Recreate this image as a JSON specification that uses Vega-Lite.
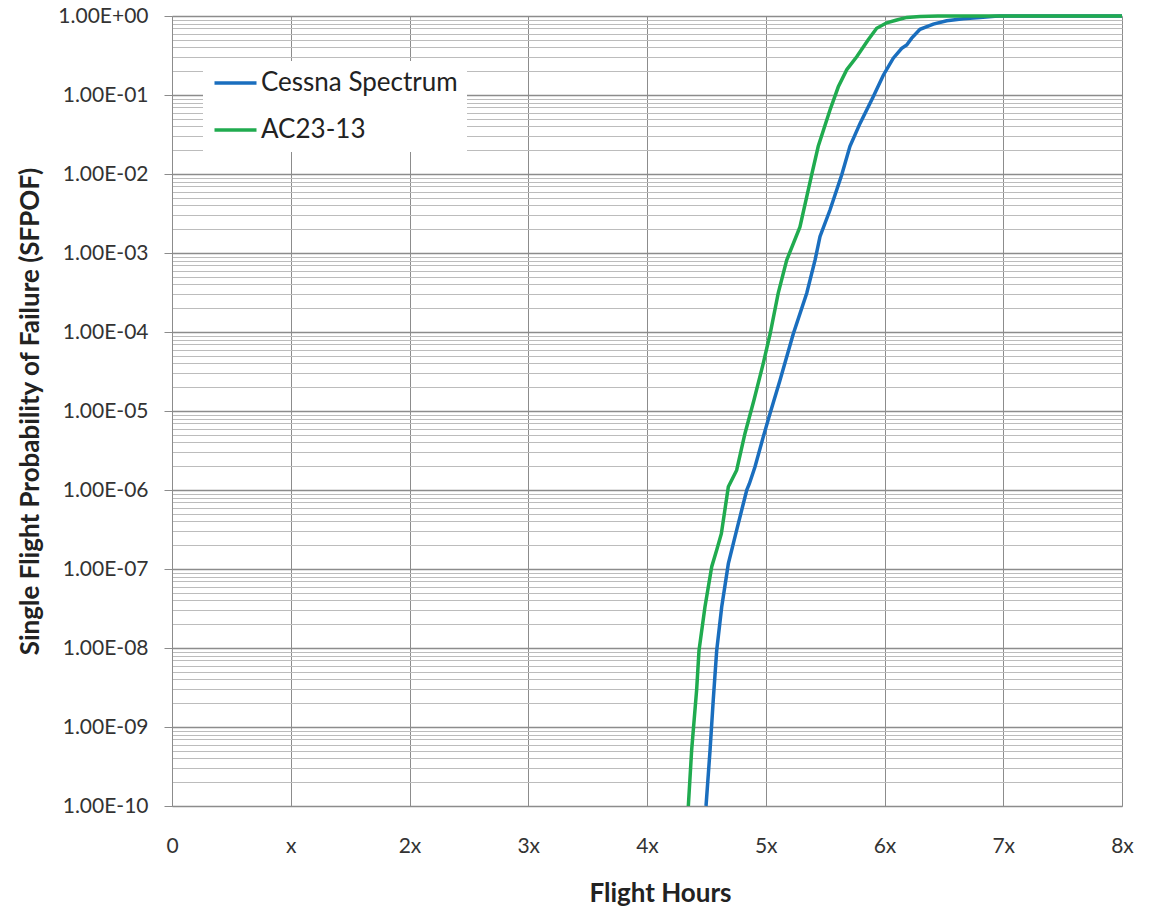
{
  "$schema": "https://vega.github.io/schema/vega-lite/v6.json",
  "width": 950,
  "height": 790,
  "autosize": {"type": "none"},
  "padding": {"left": 172, "top": 16, "right": 27, "bottom": 100},
  "background": "white",
  "config": {
    "view": {"stroke": null},
    "font": "Lato"
  },
  "data": {
    "values": [
      {"series": "Cessna Spectrum", "hours": 4.497, "p": 1e-10},
      {"series": "Cessna Spectrum", "hours": 4.531, "p": 5.1e-10},
      {"series": "Cessna Spectrum", "hours": 4.558, "p": 2.2e-9},
      {"series": "Cessna Spectrum", "hours": 4.587, "p": 9.3e-9},
      {"series": "Cessna Spectrum", "hours": 4.629, "p": 3.3e-8},
      {"series": "Cessna Spectrum", "hours": 4.685, "p": 1.17e-7},
      {"series": "Cessna Spectrum", "hours": 4.755, "p": 3.1e-7},
      {"series": "Cessna Spectrum", "hours": 4.840, "p": 1.0e-6},
      {"series": "Cessna Spectrum", "hours": 4.862, "p": 1.2e-6},
      {"series": "Cessna Spectrum", "hours": 4.909, "p": 1.95e-6},
      {"series": "Cessna Spectrum", "hours": 4.979, "p": 4.7e-6},
      {"series": "Cessna Spectrum", "hours": 5.036, "p": 9.3e-6},
      {"series": "Cessna Spectrum", "hours": 5.120, "p": 2.45e-5},
      {"series": "Cessna Spectrum", "hours": 5.232, "p": 9.5e-5},
      {"series": "Cessna Spectrum", "hours": 5.345, "p": 3.1e-4},
      {"series": "Cessna Spectrum", "hours": 5.415, "p": 8.1e-4},
      {"series": "Cessna Spectrum", "hours": 5.457, "p": 1.62e-3},
      {"series": "Cessna Spectrum", "hours": 5.541, "p": 3.5e-3},
      {"series": "Cessna Spectrum", "hours": 5.640, "p": 9.8e-3},
      {"series": "Cessna Spectrum", "hours": 5.709, "p": 0.0224},
      {"series": "Cessna Spectrum", "hours": 5.794, "p": 0.0437},
      {"series": "Cessna Spectrum", "hours": 5.906, "p": 0.0955},
      {"series": "Cessna Spectrum", "hours": 5.990, "p": 0.178},
      {"series": "Cessna Spectrum", "hours": 6.074, "p": 0.292},
      {"series": "Cessna Spectrum", "hours": 6.145, "p": 0.389},
      {"series": "Cessna Spectrum", "hours": 6.187, "p": 0.43},
      {"series": "Cessna Spectrum", "hours": 6.229, "p": 0.525},
      {"series": "Cessna Spectrum", "hours": 6.299, "p": 0.678},
      {"series": "Cessna Spectrum", "hours": 6.411, "p": 0.79},
      {"series": "Cessna Spectrum", "hours": 6.524, "p": 0.87},
      {"series": "Cessna Spectrum", "hours": 6.663, "p": 0.925},
      {"series": "Cessna Spectrum", "hours": 6.804, "p": 0.957},
      {"series": "Cessna Spectrum", "hours": 6.93, "p": 0.99},
      {"series": "Cessna Spectrum", "hours": 6.97, "p": 1.0},
      {"series": "Cessna Spectrum", "hours": 8.0, "p": 1.0},
      {"series": "AC23-13", "hours": 4.348, "p": 1e-10},
      {"series": "AC23-13", "hours": 4.376, "p": 5.1e-10},
      {"series": "AC23-13", "hours": 4.418, "p": 2.95e-9},
      {"series": "AC23-13", "hours": 4.438, "p": 9.3e-9},
      {"series": "AC23-13", "hours": 4.488, "p": 3.3e-8},
      {"series": "AC23-13", "hours": 4.545, "p": 1.07e-7},
      {"series": "AC23-13", "hours": 4.587, "p": 1.74e-7},
      {"series": "AC23-13", "hours": 4.626, "p": 2.8e-7},
      {"series": "AC23-13", "hours": 4.685, "p": 1.1e-6},
      {"series": "AC23-13", "hours": 4.755, "p": 1.78e-6},
      {"series": "AC23-13", "hours": 4.825, "p": 5.2e-6},
      {"series": "AC23-13", "hours": 4.901, "p": 1.38e-5},
      {"series": "AC23-13", "hours": 4.979, "p": 4.0e-5},
      {"series": "AC23-13", "hours": 5.037, "p": 9.5e-5},
      {"series": "AC23-13", "hours": 5.105, "p": 3.1e-4},
      {"series": "AC23-13", "hours": 5.176, "p": 8.1e-4},
      {"series": "AC23-13", "hours": 5.288, "p": 2.14e-3},
      {"series": "AC23-13", "hours": 5.387, "p": 9.8e-3},
      {"series": "AC23-13", "hours": 5.442, "p": 0.0224},
      {"series": "AC23-13", "hours": 5.541, "p": 0.0646},
      {"series": "AC23-13", "hours": 5.611, "p": 0.127},
      {"series": "AC23-13", "hours": 5.682, "p": 0.209},
      {"series": "AC23-13", "hours": 5.766, "p": 0.305},
      {"series": "AC23-13", "hours": 5.863, "p": 0.5},
      {"series": "AC23-13", "hours": 5.934, "p": 0.7},
      {"series": "AC23-13", "hours": 6.019, "p": 0.82},
      {"series": "AC23-13", "hours": 6.103, "p": 0.89},
      {"series": "AC23-13", "hours": 6.187, "p": 0.96},
      {"series": "AC23-13", "hours": 6.299, "p": 0.985},
      {"series": "AC23-13", "hours": 6.45, "p": 1.0},
      {"series": "AC23-13", "hours": 8.0, "p": 1.0}
    ]
  },
  "mark": {"type": "line", "strokeWidth": 3.5, "clip": false},
  "encoding": {
    "x": {
      "field": "hours",
      "type": "quantitative",
      "scale": {"domain": [0, 8], "nice": false, "zero": false},
      "axis": {
        "values": [0, 1, 2, 3, 4, 5, 6, 7, 8],
        "labelExpr": "datum.value == 0 ? '0' : (datum.value == 1 ? 'x' : datum.value + 'x')",
        "labelFont": "Lato",
        "labelFontSize": 21,
        "labelColor": "#333333",
        "labelPadding": 29,
        "labelFlush": false,
        "ticks": false,
        "grid": true,
        "gridColor": "#8c8c8c",
        "gridWidth": 1,
        "domainColor": "#8c8c8c",
        "domainWidth": 1,
        "title": "Flight Hours",
        "titleFont": "Lato",
        "titleFontSize": 26,
        "titleFontWeight": "bold",
        "titleColor": "#222222",
        "titleX": 488,
        "titleY": 87,
        "titleBaseline": "middle",
        "titleAlign": "center",
        "labelOverlap": false
      }
    },
    "y": {
      "field": "p",
      "type": "quantitative",
      "scale": {"type": "log", "domain": [1e-10, 1], "nice": false},
      "axis": {
        "values": [1e-10, 2e-10, 3e-10, 4e-10, 5e-10, 6e-10, 7e-10, 8e-10, 9e-10,
                   1e-9, 2e-9, 3e-9, 4e-9, 5e-9, 6e-9, 7e-9, 8e-9, 9e-9,
                   1e-8, 2e-8, 3e-8, 4e-8, 5e-8, 6e-8, 7e-8, 8e-8, 9e-8,
                   1e-7, 2e-7, 3e-7, 4e-7, 5e-7, 6e-7, 7e-7, 8e-7, 9e-7,
                   1e-6, 2e-6, 3e-6, 4e-6, 5e-6, 6e-6, 7e-6, 8e-6, 9e-6,
                   1e-5, 2e-5, 3e-5, 4e-5, 5e-5, 6e-5, 7e-5, 8e-5, 9e-5,
                   1e-4, 2e-4, 3e-4, 4e-4, 5e-4, 6e-4, 7e-4, 8e-4, 9e-4,
                   1e-3, 2e-3, 3e-3, 4e-3, 5e-3, 6e-3, 7e-3, 8e-3, 9e-3,
                   1e-2, 2e-2, 3e-2, 4e-2, 5e-2, 6e-2, 7e-2, 8e-2, 9e-2,
                   1e-1, 2e-1, 3e-1, 4e-1, 5e-1, 6e-1, 7e-1, 8e-1, 9e-1, 1],
        "labelExpr": "abs(log(datum.value)/LN10 - round(log(datum.value)/LN10)) < 0.001 ? '1.00E' + (datum.value < 0.5 ? '-' : '+') + pad(toString(abs(round(log(datum.value)/LN10))), 2, '0', 'left') : ''",
        "labelFont": "Lato",
        "labelFontSize": 21,
        "labelColor": "#333333",
        "labelPadding": 16,
        "labelOverlap": false,
        "labelBound": false,
        "labelFlush": false,
        "tickSize": 8,
        "tickColor": {"condition": {"test": "abs(log(datum.value)/LN10 - round(log(datum.value)/LN10)) < 0.001", "value": "#8c8c8c"}, "value": "transparent"},
        "grid": true,
        "gridColor": {"condition": {"test": "abs(log(datum.value)/LN10 - round(log(datum.value)/LN10)) < 0.001", "value": "#8c8c8c"}, "value": "#bcbcbc"},
        "gridWidth": {"condition": {"test": "abs(log(datum.value)/LN10 - round(log(datum.value)/LN10)) < 0.001", "value": 1.5}, "value": 1},
        "domainColor": "#8c8c8c",
        "domainWidth": 1,
        "title": "Single Flight Probability of Failure (SFPOF)",
        "titleFont": "Lato",
        "titleFontSize": 26,
        "titleFontWeight": "bold",
        "titleColor": "#222222",
        "titleX": -142,
        "titleY": 395,
        "titleAngle": -90,
        "titleBaseline": "middle",
        "titleAlign": "center"
      }
    },
    "color": {
      "field": "series",
      "type": "nominal",
      "sort": ["Cessna Spectrum", "AC23-13"],
      "scale": {"domain": ["Cessna Spectrum", "AC23-13"], "range": ["#1a6ebe", "#20ab4f"]},
      "legend": {
        "title": null,
        "orient": "none",
        "legendX": 31,
        "legendY": 45,
        "fillColor": "white",
        "padding": 9,
        "symbolType": "M-1,0H3",
        "symbolSize": 441,
        "symbolStrokeWidth": 3.5,
        "labelFont": "Lato",
        "labelFontSize": 26,
        "labelColor": "#222222",
        "labelOffset": 23,
        "rowPadding": 21,
        "labelLimit": 400
      }
    }
  }
}
